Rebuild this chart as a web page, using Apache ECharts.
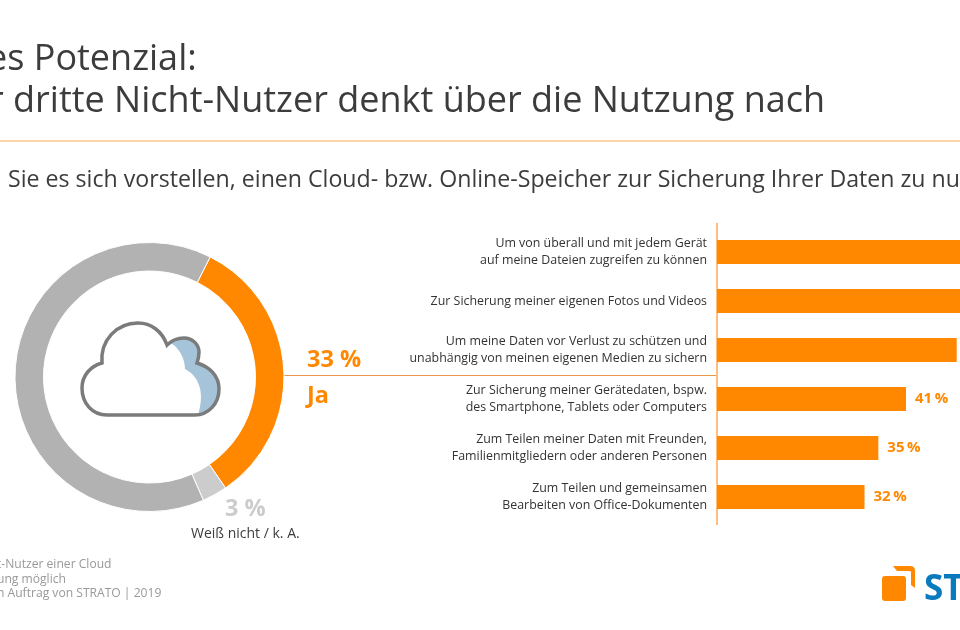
<!DOCTYPE html>
<html>
<head>
<meta charset="utf-8">
<script src="https://cdn.jsdelivr.net/npm/echarts@6/dist/echarts.min.js"></script>
<style>
html, body { margin: 0; padding: 0; background: #fff; }
#chart { width: 960px; height: 630px; }
</style>
</head>
<body>
<div id="chart"></div>
<script>
const font = "Open Sans";
const orange = "#ff8800";

//donut data
const answers = [
    { name: "Ja", value: 33, itemStyle: { color: orange } },
    { name: "Weiß nicht / k. A.", value: 3, itemStyle: { color: "#cccccc" } },
    { name: "Nein", value: 64, itemStyle: { color: "#b2b2b2" } }
];

//reasons, top bars run off the page
const reasons = [
    ["Um von überall und mit jedem Gerät\nauf meine Dateien zugreifen zu können", 60],
    ["Zur Sicherung meiner eigenen Fotos und Videos", 58],
    ["Um meine Daten vor Verlust zu schützen und\nunabhängig von meinen eigenen Medien zu sichern", 52],
    ["Zur Sicherung meiner Gerätedaten, bspw.\ndes Smartphone, Tablets oder Computers", 41],
    ["Zum Teilen meiner Daten mit Freunden,\nFamilienmitgliedern oder anderen Personen", 35],
    ["Zum Teilen und gemeinsamen\nBearbeiten von Office-Dokumenten", 32]
];

//plain text helper for the graphic layer
function label(x, y, text, size, color, weight) {
    return {
        type: "text",
        x: x,
        y: y,
        silent: true,
        style: {
            text: text,
            fontFamily: font,
            fontSize: size,
            fontWeight: weight || "normal",
            fill: color,
            textVerticalAlign: "middle"
        }
    };
}

//icon paths, page coordinates
const cloudOutline = "M107 415 C92 415 82 403 82 388 C82 375 91 366 102 363 C100 340 117 323 138 323 C151 323 162 331 167 345 C172 340 178 338 184 338 C193 338 199 345 199 352 C199 356 198 360 197 363 C210 367 219 376 219 389 C219 404 208 415 195 415 Z";
const cloudShade = "M170 343 C178 346 185 358 185 369 C197 375 206 390 198 415 L195 415 C208 415 219 404 219 389 C219 376 210 367 197 363 C198 360 199 356 199 352 C199 345 193 338 184 338 C178 338 172 340 170 343 Z";
const logoCorner = "M893 566 L910 566 Q915 566 915 571 L915 588 L911 585 L911 572 Q911 571 909 571 L897 571 Z";

//path elements through a custom series, the graphic component has no path type
function iconPath(pathData, rect, style) {
    return {
        type: "path",
        shape: Object.assign({ pathData: pathData, layout: "cover" }, rect),
        style: style
    };
}

function renderIcons() {
    const cloudRect = { x: 82, y: 323, width: 137, height: 92 };
    return {
        type: "group",
        children: [
            iconPath(cloudOutline, cloudRect, { fill: "#ffffff" }),
            iconPath(cloudShade, { x: 170, y: 338, width: 49, height: 77 }, { fill: "#a5c4d9" }),
            iconPath(cloudOutline, cloudRect, { fill: "none", stroke: "#7b7b7b", lineWidth: 3.5 }),
            iconPath(logoCorner, { x: 893, y: 566, width: 22, height: 22 }, { fill: orange })
        ]
    };
}

const chart = echarts.init(document.getElementById("chart"));
chart.setOption({
    animation: false,
    backgroundColor: "#ffffff",
    grid: { left: 717, top: 227.5, width: 461, height: 294, outerBoundsMode: "none" },
    xAxis: { type: "value", min: 0, max: 100, show: false },
    yAxis: {
        type: "category",
        inverse: true,
        data: reasons.map(d => d[0]),
        axisLine: { show: false },
        axisTick: { show: false },
        axisLabel: {
            fontFamily: font,
            fontSize: 12.4,
            lineHeight: 17,
            color: "#333333",
            align: "right",
            margin: 10,
            padding: [4, 0, 0, 0]
        }
    },
    series: [
        {
            type: "pie",
            center: [149.5, 377],
            radius: [106, 134.5],
            startAngle: 63.2,
            clockwise: true,
            silent: true,
            label: { show: false },
            labelLine: { show: false },
            itemStyle: { borderColor: "#ffffff", borderWidth: 1 },
            data: answers
        },
        {
            type: "bar",
            barWidth: 24,
            silent: true,
            itemStyle: { color: orange },
            label: {
                show: true,
                position: "right",
                distance: 9,
                formatter: "{c}\u2009%",
                fontFamily: font,
                fontSize: 15,
                fontWeight: "bold",
                color: orange,
                padding: [1, 0, 0, 0]
            },
            data: reasons.map(d => d[1])
        },
        {
            type: "custom",
            coordinateSystem: "none",
            silent: true,
            z: 5,
            renderItem: renderIcons,
            data: [0]
        }
    ],
    graphic: [
        //headline
        label(-13, 60, "es Potenzial:", 36, "#3c3c3c"),
        label(-11, 102, "r dritte Nicht-Nutzer denkt über die Nutzung nach", 36, "#3c3c3c"),
        { type: "line", silent: true, shape: { x1: 0, y1: 141, x2: 960, y2: 141 }, style: { stroke: "#fbc48c", lineWidth: 1.5 } },
        label(8, 180, "Sie es sich vorstellen, einen Cloud- bzw. Online-Speicher zur Sicherung Ihrer Daten zu nu", 23.15, "#3c3c3c"),

        //connector and bar axis
        { type: "line", silent: true, z: 1, shape: { x1: 284, y1: 375.5, x2: 717, y2: 375.5 }, style: { stroke: "#e8964a", lineWidth: 1 } },
        { type: "line", silent: true, z: 1, shape: { x1: 717, y1: 223, x2: 717, y2: 525 }, style: { stroke: "#ffbe7d", lineWidth: 2 } },

        //donut labels
        label(307, 360, answers[0].value + " %", 23.5, orange, "bold"),
        label(307, 396, answers[0].name, 23.5, orange, "bold"),
        label(225, 509, answers[1].value + " %", 23.5, "#cccccc", "bold"),
        label(191, 534, answers[1].name, 14, "#3c3c3c"),

        //footer
        label(-3, 565, "t-Nutzer einer Cloud", 12.1, "#999999"),
        label(-3, 580, "ung möglich", 12.1, "#999999"),
        label(-3, 594, "n Auftrag von STRATO | 2019", 12.1, "#999999"),

        //logo
        { type: "rect", silent: true, shape: { x: 882, y: 576, width: 24, height: 25, r: 3 }, style: { fill: orange } },
        label(924, 590, "STRATO", 35, "#0a7abf", "bold")
    ]
});
</script>
</body>
</html>
